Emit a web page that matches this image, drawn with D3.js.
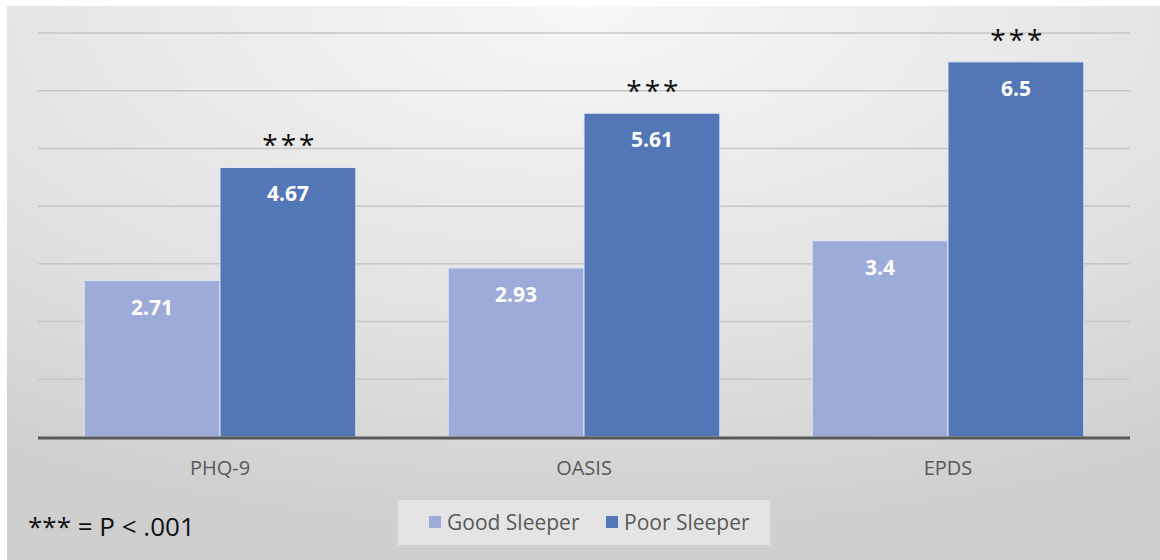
<!DOCTYPE html>
<html lang="en">
<head>
  <meta charset="UTF-8">
  <title>Sleep quality and symptom scores</title>
  <script src="https://cdn.jsdelivr.net/npm/d3@7"></script>
  <style>
    body { margin: 0; background: #fff; }
    text { font-family: "Open Sans", "Noto Sans", sans-serif; }
  </style>
</head>
<body>
  <script>
    // Data
    const categories = ["PHQ-9", "OASIS", "EPDS"];
    const seriesNames = ["Good Sleeper", "Poor Sleeper"];
    const goodSleeper = [2.71, 2.93, 3.4];
    const poorSleeper = [4.67, 5.61, 6.5];
    const valueLabels = [["2.71", "2.93", "3.4"], ["4.67", "5.61", "6.5"]];
    const gridTicks = [1, 2, 3, 4, 5, 6, 7];
    const marks = ["***", "***", "***"];
    const footnote = "*** = P < .001";

    const colors = ["#9cabd7", "#5276b6"];
    const W = 1160, H = 560;

    const svg = d3.select("body").append("svg")
      .attr("width", W).attr("height", H);

    // Background gradient like the original slide
    const defs = svg.append("defs");
    const grad = defs.append("radialGradient")
      .attr("id", "bg").attr("cx", "50%").attr("cy", "0%").attr("r", "95%");
    grad.append("stop").attr("offset", "0%").attr("stop-color", "#f7f7f7");
    grad.append("stop").attr("offset", "60%").attr("stop-color", "#e2e2e2");
    grad.append("stop").attr("offset", "100%").attr("stop-color", "#cfcfcf");

    svg.append("rect").attr("x", 7).attr("y", 6)
      .attr("width", W - 7).attr("height", H - 6)
      .attr("fill", "url(#bg)");

    // Scales
    const x0 = d3.scaleBand().domain(categories).range([38, 1130]).paddingInner(0).paddingOuter(0);
    const x1 = d3.scaleBand().domain(seriesNames).range([0, x0.bandwidth()]).paddingOuter(0.34).paddingInner(0);
    const y = d3.scaleLinear().domain([0, 7]).range([437, 33]);

    // Gridlines
    svg.append("g").selectAll("line").data(gridTicks).enter().append("line")
      .attr("x1", 38).attr("x2", 1130)
      .attr("y1", d => y(d)).attr("y2", d => y(d))
      .attr("stroke", "#c6c6c6").attr("stroke-width", 1.5);

    // Bars
    const rows = categories.map((c, i) => ({ cat: c, vals: [goodSleeper[i], poorSleeper[i]], i: i }));
    const groups = svg.append("g").selectAll("g").data(rows).enter().append("g")
      .attr("transform", d => "translate(" + x0(d.cat) + ",0)");

    groups.selectAll("rect").data(d => d.vals.map((v, s) => ({ v: v, s: s }))).enter().append("rect")
      .attr("x", d => x1(seriesNames[d.s]))
      .attr("y", d => y(d.v))
      .attr("width", x1.bandwidth())
      .attr("height", d => y(0) - y(d.v))
      .attr("fill", d => colors[d.s])
      .attr("stroke", "#dfe6f5").attr("stroke-width", 1);

    // Value labels inside bars
    groups.selectAll("text.val").data(d => d.vals.map((v, s) => ({ v: v, s: s, i: d.i }))).enter().append("text")
      .attr("class", "val")
      .attr("x", d => x1(seriesNames[d.s]) + x1.bandwidth() / 2)
      .attr("y", d => y(d.v) + 34)
      .attr("text-anchor", "middle")
      .attr("fill", "#fff").attr("font-weight", "bold").attr("font-size", 21)
      .text(d => valueLabels[d.s][d.i]);

    // Significance marks above poor sleeper bars
    groups.append("text")
      .attr("x", x1("Poor Sleeper") + x1.bandwidth() / 2 + 2)
      .attr("y", d => y(d.vals[1]) - 12)
      .attr("text-anchor", "middle")
      .attr("font-size", 28).attr("letter-spacing", 3).attr("fill", "#111")
      .text(d => marks[d.i]);

    // Baseline
    svg.append("line").attr("x1", 38).attr("x2", 1130)
      .attr("y1", y(0) + 1).attr("y2", y(0) + 1)
      .attr("stroke", "#595959").attr("stroke-width", 3);

    // Category axis
    const axis = svg.append("g").attr("transform", "translate(0," + y(0) + ")")
      .call(d3.axisBottom(x0).tickSize(0).tickPadding(24));
    axis.select(".domain").remove();
    axis.selectAll("text").attr("font-size", 20).attr("fill", "#595959")
      .attr("font-family", "'Open Sans', sans-serif");

    // Legend
    const legend = svg.append("g");
    legend.append("rect").attr("x", 398).attr("y", 500).attr("width", 372).attr("height", 45)
      .attr("fill", "#e4e4e4");
    const legendX = [429, 606];
    seriesNames.forEach((n, s) => {
      legend.append("rect").attr("x", legendX[s]).attr("y", 516).attr("width", 12).attr("height", 12)
        .attr("fill", colors[s]);
      legend.append("text").attr("x", legendX[s] + 18).attr("y", 530)
        .attr("font-size", 21).attr("fill", "#595959").text(n);
    });

    // Footnote
    svg.append("text").attr("x", 28).attr("y", 536)
      .attr("font-size", 26).attr("fill", "#111").text(footnote);
  </script>
</body>
</html>
